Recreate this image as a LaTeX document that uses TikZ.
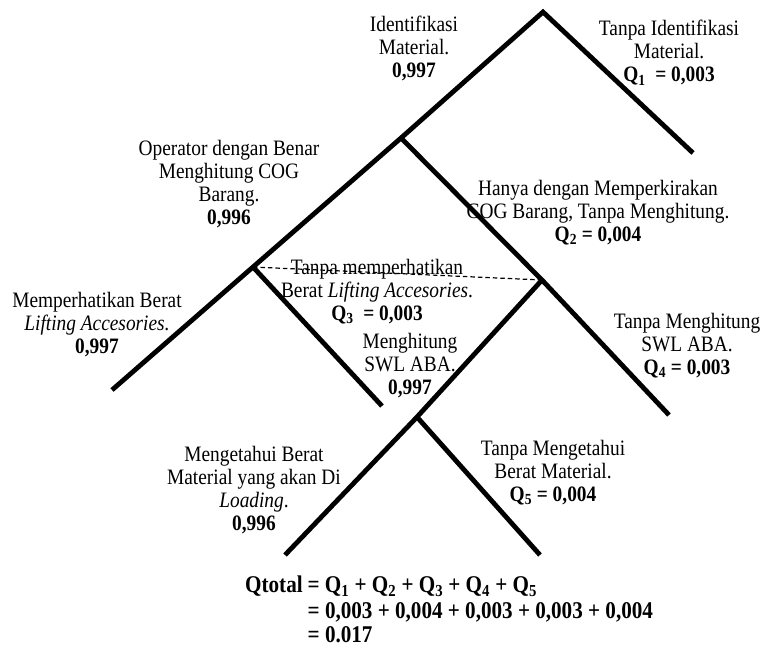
\documentclass[tikz,border=0pt]{standalone}
\usepackage{fontspec}
\setmainfont{Liberation Serif}[FakeStretch=0.88]
\begin{document}
\begin{tikzpicture}[x=1pt,y=-1pt,
  branch/.style={line width=4.8pt},
  dashline/.style={line width=1.2pt, dash pattern=on 4.5pt off 3pt},
  lbl/.style={font=\fontsize{22}{23}\selectfont, align=center, inner sep=0pt}]
\useasboundingbox (0,0) rectangle (765,651);
% branch points and ends
\coordinate (A) at (543,12);
\coordinate (R1) at (693,153);
\coordinate (B) at (401,138);
\coordinate (C) at (253,267);
\coordinate (CL) at (112,390);
\coordinate (CR) at (382,406);
\coordinate (D) at (542,280);
\coordinate (DR) at (669,415);
\coordinate (E) at (417,417);
\coordinate (EL) at (285,555);
\coordinate (ER) at (540,555);
% tree
\draw[branch] (R1) -- (A) -- (B) -- (C) -- (CL);
\draw[branch] (C) -- (CR);
\draw[branch] (B) -- (D) -- (DR);
\draw[branch] (D) -- (E) -- (EL);
\draw[branch] (E) -- (ER);
\draw[dashline] (C) -- (D);
% labels
\node[lbl] (l1) at (414,48) {Identifikasi\\Material.\\\textbf{0,997}};
\node[lbl] (l2) at (669,53) {Tanpa Identifikasi\\Material.\\\textbf{Q\textsubscript{1}\ \ = 0,003}};
\node[lbl] (l3) at (229,184) {Operator dengan Benar\\Menghitung COG\\Barang.\\\textbf{0,996}};
\node[lbl] (l4) at (598,213) {Hanya dengan Memperkirakan\\COG Barang, Tanpa Menghitung.\\\textbf{Q\textsubscript{2} = 0,004}};
\node[lbl] (l5) at (377,292) {Tanpa memperhatikan\\Berat \textit{Lifting Accesories}.\\\textbf{Q\textsubscript{3}\ \ = 0,003}};
\node[lbl] (l6) at (410,366) {Menghitung\\SWL ABA.\\\textbf{0,997}};
\node[lbl] (l7) at (97,325) {Memperhatikan Berat\\\textit{Lifting Accesories.}\\\textbf{0,997}};
\node[lbl] (l8) at (687,346) {Tanpa Menghitung\\SWL ABA.\\\textbf{Q\textsubscript{4} = 0,003}};
\node[lbl] (l9) at (254,490) {Mengetahui Berat\\Material yang akan Di\\\textit{Loading}.\\\textbf{0,996}};
\node[lbl] (l10) at (553,473) {Tanpa Mengetahui\\Berat Material.\\\textbf{Q\textsubscript{5} = 0,004}};
\node[lbl, anchor=north west, font=\fontsize{24}{22}\selectfont] (eq) at (245,576) {\bfseries
  \begin{tabular}{@{}r@{}l@{}}
  Qtotal\kern5pt & = Q\textsubscript{1} + Q\textsubscript{2} + Q\textsubscript{3} + Q\textsubscript{4} + Q\textsubscript{5}\\[3pt]
   & = 0,003 + 0,004 + 0,003 + 0,003 + 0,004\\[1.5pt]
   & = 0.017
  \end{tabular}};
\end{tikzpicture}
\end{document}
